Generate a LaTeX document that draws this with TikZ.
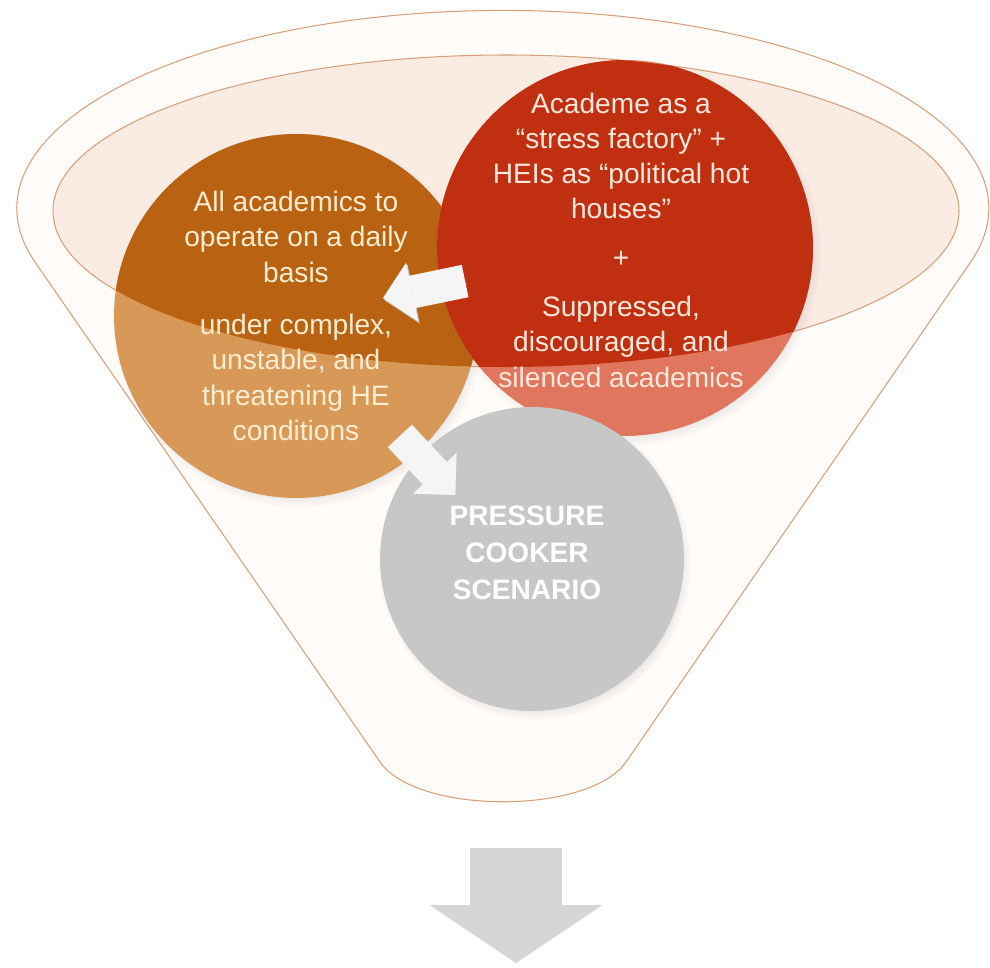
\documentclass[tikz,border=0pt]{standalone}
\usepackage{fontspec}
\setmainfont{Liberation Sans}
\usetikzlibrary{arrows.meta,calc,shadows}
\definecolor{rimline}{RGB}{214,160,122}
\definecolor{funnelfill}{RGB}{255,252,250}
\definecolor{rimfill}{RGB}{250,235,227}
\definecolor{amberdark}{RGB}{184,98,18}
\definecolor{amberlight}{RGB}{216,152,88}
\definecolor{rustdark}{RGB}{192,48,16}
\definecolor{rustlight}{RGB}{224,118,94}
\definecolor{cookergray}{RGB}{199,199,199}
\definecolor{creamtext}{RGB}{252,238,210}
\definecolor{rusttext}{RGB}{252,232,220}
\begin{document}
\begin{tikzpicture}[x=0.02cm, y=-0.02cm,
    bubble/.style={circle, inner sep=0pt, circular drop shadow={shadow xshift=1.5pt, shadow yshift=-2.5pt, shadow scale=1.03, opacity=0.35}},
    bubbletext/.style={align=center, text=creamtext, font=\fontsize{16}{20}\selectfont},
    whitearrow/.style={line width=0.66cm, draw=white!96!black, -{Triangle[width=1.2cm 0, length=0.6cm 0, line width=0pt 0]}, preaction={draw=black!22, transform canvas={shift={(0.8pt,-1.2pt)}}}}]
    \useasboundingbox (0,0) rectangle (990,967);

    % Funnel and rim
    \draw[rimline, line width=0.6pt, fill=funnelfill] (35,262) arc[start angle=164.3, end angle=375.7, x radius=486, y radius=198]
        -- (626,762) .. controls (589,815) and (417,815) .. (380,762) -- cycle;
    \coordinate (rim) at (506,211);
    \draw[rimline, line width=0.6pt, fill=rimfill] (rim) ellipse[x radius=453, y radius=156];

    % Circles, darker where they sit inside the rim
    \node[bubble, fill=amberlight, minimum size=7.28cm, path picture={\fill[amberdark] (rim) ellipse[x radius=453, y radius=156];}] (daily) at (296,316) {};
    \node[bubble, fill=rustlight, minimum size=7.52cm, path picture={\fill[rustdark] (rim) ellipse[x radius=453, y radius=156];}] (factory) at (625,248) {};
    \node[bubble, fill=cookergray, minimum size=6.08cm] (cooker) at (532,559) {};

    % Texts
    \node[bubbletext] (dailytext) at (daily) {All academics to\\operate on a daily\\basis\\[10pt]under complex,\\unstable, and\\threatening HE\\conditions};
    \node[bubbletext, text=rusttext] (factorytext) at ($(factory)+(-4,-8)$) {Academe as a\\“stress factory” +\\HEIs as “political hot\\houses”\\[8pt]+\\[8pt]Suppressed,\\discouraged, and\\silenced academics};
    \node[bubbletext, text=white, font=\fontsize{16}{21}\selectfont\bfseries] (cookertext) at ($(cooker)+(-5,-6)$) {PRESSURE\\COOKER\\SCENARIO};

    % Arrows
    \draw[whitearrow] ($(factory)!0.486!(daily)$) -- ($(factory)!0.736!(daily)$);
    \draw[whitearrow] ($(daily)!0.44!(cooker)+(0,13)$) -- ($(daily)!0.675!(cooker)+(0,15)$);
    \coordinate (outlet) at (516,848);
    \coordinate (spout) at (516,963);
    \draw[line width=1.86cm, draw=black!16, -{Triangle[width=3.46cm 0, length=1.16cm 0, line width=0pt 0]}] (outlet) -- (spout);
\end{tikzpicture}
\end{document}
